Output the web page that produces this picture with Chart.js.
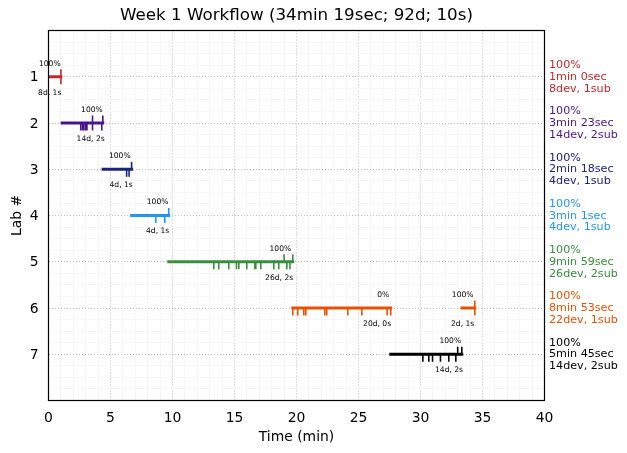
<!DOCTYPE html>
<html><head><meta charset="utf-8">
<style>html,body{margin:0;padding:0;background:#fff}canvas{display:block}</style>
<script src="https://cdn.jsdelivr.net/npm/chart.js@4"></script>
</head><body><canvas id="c" width="627" height="453"></canvas>
<script>
const labs = [1,2,3,4,5,6,7];
const labColors = ['#c62828','#4a148c','#1a237e','#2196f3','#388e3c','#e65100','#000000'];
const sessionLab = [1,2,3,4,5,6,6,7];
const sessionStart = [0,1.1,4.4,6.7,9.7,19.7,33.35,27.6];
const sessionEnd = [1.0,4.38,6.7,9.7,19.7,27.6,34.38,33.33];
const devTimes = [
  [1.0],
  [2.6,2.75,2.85,3.0,3.1,3.55,4.3],
  [6.3,6.5],
  [8.65,9.38],
  [13.33,13.73,14.54,15.16,15.35,15.99,16.64,16.72,17.12,18.17,18.57,19.22,19.47],
  [19.7,20.1,20.59,20.75,22.28,22.44,24.14,25.27,27.31,27.6,34.38],
  [30.19,30.67,30.97,31.61,32.28,32.85]
];
const subTimes = [[1.0],[3.55,4.38],[6.7],[9.7],[19.0,19.7],[34.38],[33.0,33.33]];
const pctLabels = ['100%','100%','100%','100%','100%','0%','100%','100%'];
const pctX = [0.1,3.5,5.75,8.8,18.7,27.0,33.4,32.4];
const countLabels = ['8d, 1s','14d, 2s','4d, 1s','4d, 1s','26d, 2s','20d, 0s','2d, 1s','14d, 2s'];
const countX = [0.1,3.4,5.86,8.8,18.6,26.5,33.4,32.3];
const sideLabels = [
  ['100%','1min 0sec','8dev, 1sub'],
  ['100%','3min 23sec','14dev, 2sub'],
  ['100%','2min 18sec','4dev, 1sub'],
  ['100%','3min 1sec','4dev, 1sub'],
  ['100%','9min 59sec','26dev, 2sub'],
  ['100%','8min 53sec','22dev, 1sub'],
  ['100%','5min 45sec','14dev, 2sub']
];
const FONT = '"DejaVu Sans"';
const TICK_LEN = 0.16;
function tickPoints(times, lab, dir){
  const pts=[];
  times.forEach(t=>{pts.push({x:t,y:lab},{x:t,y:lab+dir*TICK_LEN},{x:NaN,y:NaN});});
  return pts;
}
const datasets=[];
labs.forEach((lab,i)=>{
  datasets.push({data:tickPoints(devTimes[i],lab,1),borderColor:labColors[i],borderWidth:1.6,showLine:true,spanGaps:false,pointRadius:0,order:2});
  datasets.push({data:tickPoints(subTimes[i],lab,-1),borderColor:labColors[i],borderWidth:1.6,showLine:true,spanGaps:false,pointRadius:0,order:2});
});
sessionLab.forEach((lab,i)=>{
  datasets.push({data:[{x:sessionStart[i],y:lab},{x:sessionEnd[i],y:lab}],borderColor:labColors[lab-1],borderWidth:2.9,showLine:true,pointRadius:0,borderCapStyle:'square',order:1});
});
const annotate={id:'annotate',
  afterDatasetsDraw(chart){
    const {ctx,chartArea:a,scales:{x,y}}=chart;
    ctx.save();
    ctx.strokeStyle='#000';ctx.lineWidth=1.2;
    ctx.strokeRect(a.left,a.top,a.right-a.left,a.bottom-a.top);
    ctx.textAlign='center';ctx.textBaseline='middle';ctx.fillStyle='#000';
    ctx.font='7.6px '+FONT;
    sessionLab.forEach((lab,i)=>{
      ctx.fillText(pctLabels[i],x.getPixelForValue(pctX[i]),y.getPixelForValue(lab)-13);
      ctx.fillText(countLabels[i],x.getPixelForValue(countX[i]),y.getPixelForValue(lab)+16);
    });
    ctx.textAlign='left';ctx.font='11.15px '+FONT;
    labs.forEach((lab,i)=>{
      ctx.fillStyle=labColors[i];
      sideLabels[i].forEach((s,k)=>ctx.fillText(s,a.right+4.5,y.getPixelForValue(lab)+(k-1)*11.8+0.3));
    });
    ctx.restore();
  }};
new Chart(document.getElementById('c'),{
  type:'scatter',
  data:{datasets},
  plugins:[annotate],
  options:{
    responsive:false,animation:false,devicePixelRatio:1,
    layout:{padding:{left:0,right:82.5,top:0,bottom:0}},
    plugins:{legend:{display:false},tooltip:{enabled:false},
      title:{display:true,fullSize:false,text:'Week 1 Workflow (34min 19sec; 92d; 10s)',color:'#000',
        font:{family:FONT,size:16.7,weight:'normal'},padding:{top:6,bottom:4.46}}},
    scales:{
      x:{type:'linear',min:0,max:40,
        afterFit(s){s.height=52.5;},
        ticks:{stepSize:1,autoSkip:false,maxRotation:0,color:'#000',padding:10,font:{family:FONT,size:13.9},
          callback:v=>v%5===0?String(v):''},
        grid:{drawTicks:false,
          color:c=>c.tick&&c.tick.value%5===0?'#bdbdbd':'#f5f5f5',
          lineWidth:c=>c.tick&&c.tick.value%5===0?1:0.8},
        border:{display:false,dash:c=>c.tick&&c.tick.value%5===0?[1,2]:[]},
        title:{display:true,text:'Time (min)',color:'#000',font:{family:FONT,size:13.9},padding:{top:0,bottom:7}}},
      y:{type:'linear',reverse:true,min:0,max:8,
        afterFit(s){s.width=48.5;},
        ticks:{stepSize:0.25,autoSkip:false,color:'#000',padding:10,labelOffset:1,font:{family:FONT,size:13.9},
          callback:v=>(Number.isInteger(v)&&v>=1&&v<=7)?String(v):''},
        grid:{drawTicks:false,
          color:c=>c.tick&&Number.isInteger(c.tick.value)?'#bdbdbd':'#f5f5f5',
          lineWidth:c=>c.tick&&Number.isInteger(c.tick.value)?1:0.8},
        border:{display:false,dash:c=>c.tick&&Number.isInteger(c.tick.value)?[1,2]:[]},
        title:{display:true,text:'Lab #',color:'#000',font:{family:FONT,size:13.9},padding:{top:9,bottom:0}}}
    }
  }
});
</script></body></html>
